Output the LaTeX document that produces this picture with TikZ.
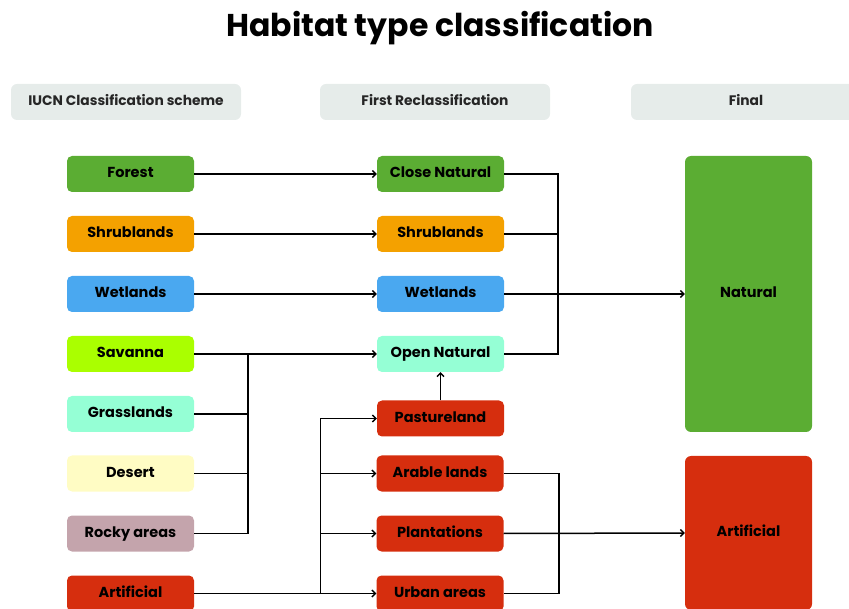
\documentclass[tikz,border=0pt]{standalone}
\usepackage{fontspec}
\setmainfont{Poppins}
\usetikzlibrary{arrows.meta}
\definecolor{cforest}{HTML}{5BAD33}
\definecolor{cshrub}{HTML}{F4A100}
\definecolor{cwet}{HTML}{4AA8F0}
\definecolor{csav}{HTML}{AAFF00}
\definecolor{cgrass}{HTML}{95FFD5}
\definecolor{cdesert}{HTML}{FFFCC4}
\definecolor{crocky}{HTML}{C4A4AC}
\definecolor{cart}{HTML}{D62E0E}
\definecolor{chead}{HTML}{E6ECEA}
\begin{document}
\begin{tikzpicture}[x=1pt,y=-1pt,
  box/.style={rounded corners=5pt, minimum width=127pt, minimum height=36pt, inner sep=0pt, text height=1.6ex, text depth=0.25ex, font=\fontsize{14.5}{16}\selectfont\bfseries, text=black},
  headbox/.style={rounded corners=6pt, fill=chead, minimum width=230pt, minimum height=36pt, inner sep=0pt, text height=1.6ex, text depth=0.25ex, font=\fontsize{13.8}{16}\selectfont\bfseries, text=black!85},
  bigbox/.style={rounded corners=6pt, minimum width=127pt, inner sep=0pt, text height=1.6ex, text depth=0.25ex, font=\fontsize{14.5}{16}\selectfont\bfseries, text=black},
  line/.style={draw=black, line width=1.5pt},
  arr/.style={line, -{Straight Barb[length=3.5pt,width=7pt,line width=1.3pt]}}
]
\useasboundingbox (0,0) rectangle (849,609);
\clip (0,0) rectangle (849,609);
\node[font=\fontsize{31.5}{36}\selectfont\bfseries] (title) at (440,28) {Habitat type classification};
% headers
\node[headbox] (h1) at (126,102) {IUCN Classification scheme};
\node[headbox] (h2) at (435,102) {First Reclassification};
\node[headbox] (h3) at (746,102) {Final};
% column 1
\node[box, fill=cforest] (forest) at (130.5,174) {Forest};
\node[box, fill=cshrub] (shrub1) at (130.5,234) {Shrublands};
\node[box, fill=cwet] (wet1) at (130.5,294) {Wetlands};
\node[box, fill=csav] (sav) at (130.5,354) {Savanna};
\node[box, fill=cgrass] (grass) at (130.5,414) {Grasslands};
\node[box, fill=cdesert] (desert) at (130.5,473.5) {Desert};
\node[box, fill=crocky] (rocky) at (130.5,533.5) {Rocky areas};
\node[box, fill=cart] (art1) at (130.5,593.5) {Artificial};
% column 2
\node[box, fill=cforest] (close) at (440.5,174) {Close Natural};
\node[box, fill=cshrub] (shrub2) at (440.5,234) {Shrublands};
\node[box, fill=cwet] (wet2) at (440.5,294) {Wetlands};
\node[box, fill=cgrass] (open) at (440.5,354) {Open Natural};
\node[box, fill=cart] (pasture) at (440.5,418.5) {Pastureland};
\node[box, fill=cart] (arable) at (440,473.5) {Arable lands};
\node[box, fill=cart] (plant) at (440,533.5) {Plantations};
\node[box, fill=cart] (urban) at (440,593.5) {Urban areas};
% final
\node[bigbox, fill=cforest, minimum height=276pt] (natural) at (748.5,294) {Natural};
\node[bigbox, fill=cart, minimum height=154pt] (artificial) at (748.5,533) {Artificial};
% junction coordinates
\coordinate (j1) at (248,354);
\coordinate (j2) at (320.5,418.5);
\coordinate (j3) at (558,354);
\coordinate (j4) at (559,593.5);
% connectors column 1 -> 2
\draw[arr] (forest.east) -- (close.west);
\draw[arr] (shrub1.east) -- (shrub2.west);
\draw[arr] (wet1.east) -- (wet2.west);
\draw[arr] (sav.east) -- (open.west);
\draw[line] (rocky.east) -| (j1);
\draw[line] (grass.east) -- (grass.east -| j1);
\draw[line] (desert.east) -- (desert.east -| j1);
\draw[arr] (art1.east) -- (urban.west);
\draw[line] (art1.east -| j2) -- (j2);
\draw[arr] (j2) -- (pasture.west);
\draw[arr] (arable.west -| j2) -- (arable.west);
\draw[arr] (plant.west -| j2) -- (plant.west);
\draw[arr] (pasture.north) -- (open.south);
% connectors column 2 -> final
\draw[line] (close.east) -| (j3) -- (open.east);
\draw[line] (shrub2.east) -- (shrub2.east -| j3);
\draw[arr] (wet2.east) -- (natural.west);
\draw[line] (arable.east) -| (j4) -- (urban.east);
\draw[arr] (plant.east) -- (artificial.west);
\end{tikzpicture}
\end{document}
